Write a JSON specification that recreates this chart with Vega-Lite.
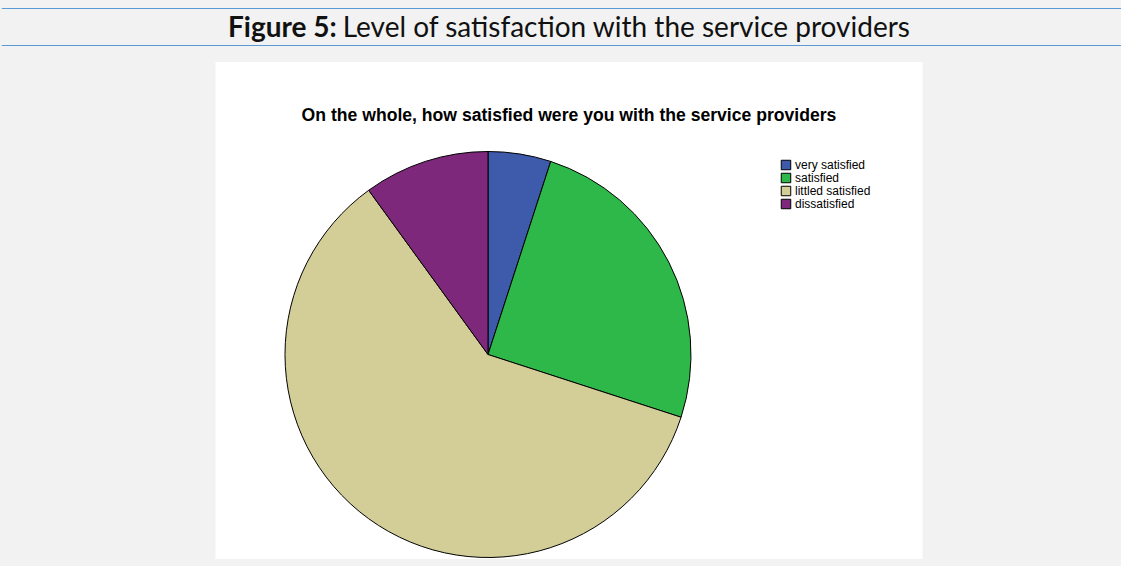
{
  "$schema": "https://vega.github.io/schema/vega-lite/v6.json",
  "background": "#f2f2f2",
  "padding": {"left": 0, "top": 7, "right": 0, "bottom": 9},
  "spacing": 16,
  "center": true,
  "config": {"view": {"stroke": null}},
  "vconcat": [
    {
      "width": 1135,
      "height": 37,
      "view": {"stroke": "#5b9bd5", "strokeWidth": 1, "fill": null, "strokeDash": [1135, 37, 1135, 37]},
      "data": {"values": [{"label": "Figure 5:", "caption": "Level of satisfaction with the service providers"}]},
      "layer": [
        {
          "mark": {"type": "text", "font": "Lato", "fontSize": 28, "fontWeight": "bold", "align": "right", "baseline": "alphabetic", "dx": -232, "dy": 10.5, "color": "#111"},
          "encoding": {"text": {"field": "label"}}
        },
        {
          "mark": {"type": "text", "font": "Lato", "fontSize": 28, "fontWeight": "normal", "align": "left", "baseline": "alphabetic", "dx": -226, "dy": 10.5, "color": "#111"},
          "encoding": {"text": {"field": "caption"}}
        }
      ]
    },
    {
      "width": 707,
      "height": 497,
      "view": {"fill": "#ffffff", "stroke": null},
      "title": {
        "text": "On the whole, how satisfied were you with the service providers",
        "font": "Liberation Sans",
        "fontSize": 17.6,
        "fontWeight": "bold",
        "color": "#000000",
        "anchor": "middle",
        "baseline": "alphabetic",
        "offset": -77
      },
      "data": {
        "values": [
          {"code": 1, "satisfaction": "very satisfied", "percent": 5},
          {"code": 2, "satisfaction": "satisfied", "percent": 25},
          {"code": 3, "satisfaction": "littled satisfied", "percent": 60},
          {"code": 4, "satisfaction": "dissatisfied", "percent": 10}
        ]
      },
      "mark": {"type": "arc", "radius": 203, "stroke": "#000000", "strokeWidth": 1, "xOffset": -81, "yOffset": 44},
      "encoding": {
        "theta": {"field": "percent", "type": "quantitative", "stack": true},
        "color": {
          "field": "satisfaction",
          "type": "nominal",
          "sort": ["very satisfied", "satisfied", "littled satisfied", "dissatisfied"],
          "scale": {
            "domain": ["very satisfied", "satisfied", "littled satisfied", "dissatisfied"],
            "range": ["#3d5aab", "#2eb84a", "#d3ce98", "#7d287b"]
          },
          "legend": {
            "title": null,
            "orient": "none",
            "legendX": 779,
            "legendY": 151,
            "symbolType": "square",
            "symbolSize": 90,
            "symbolStrokeColor": "#000000",
            "symbolStrokeWidth": 1,
            "symbolOpacity": 1,
            "labelFont": "Liberation Sans",
            "labelFontSize": 12,
            "labelColor": "#000000",
            "labelOffset": 3,
            "rowPadding": -1
          }
        },
        "order": {"field": "code", "type": "quantitative", "sort": "ascending"}
      }
    }
  ]
}
